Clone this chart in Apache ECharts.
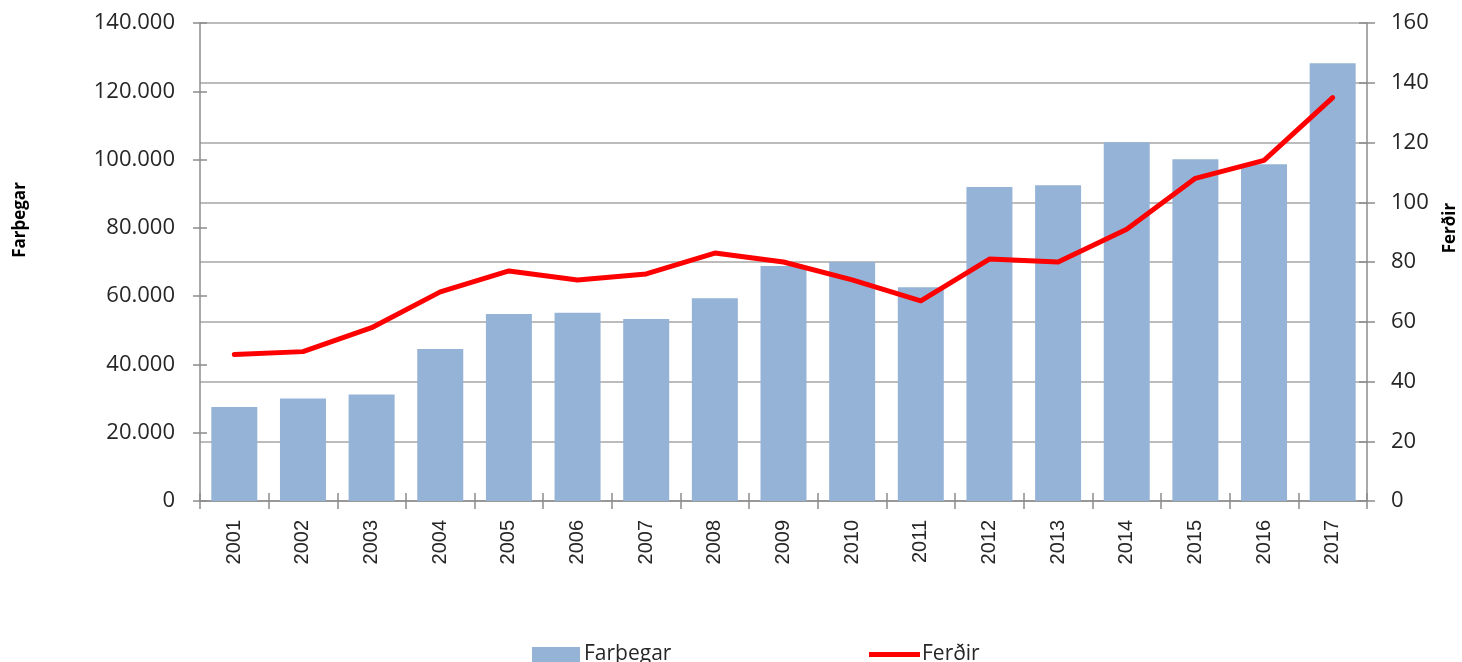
<!DOCTYPE html>
<html>
<head>
<meta charset="utf-8">
<script src="https://cdn.jsdelivr.net/npm/echarts@6/dist/echarts.min.js"></script>
<style>html,body{margin:0;padding:0;background:#fff;}#c{width:1462px;height:662px;}</style>
</head>
<body>
<div id="c"></div>
<script>
const years = ['2001','2002','2003','2004','2005','2006','2007','2008','2009','2010','2011','2012','2013','2014','2015','2016','2017'];
const farthegar = [27500, 30000, 31200, 44500, 54800, 55100, 53300, 59400, 68800, 70000, 62600, 92000, 92500, 105100, 100100, 98600, 128200];
const ferdir = [49, 50, 58, 70, 77, 74, 76, 83, 80, 74, 67, 81, 80, 91, 108, 114, 135];
const leftTicks = {min: 0, max: 140000, interval: 20000};
const rightTicks = {min: 0, max: 160, interval: 20};

const axisColor = '#8C8C8C';
const labelFont = 'Open Sans';
const chart = echarts.init(document.getElementById('c'), null, {renderer: 'canvas'});
const fmtThousands = v => v === 0 ? '0' : String(v).replace(/\B(?=(\d{3})+(?!\d))/g, '.');

chart.setOption({
  animation: false,
  backgroundColor: '#fff',
  grid: {left: 200, right: 95, top: 23, bottom: 161, containLabel: false},
  legend: [
    {left: 532, top: 644, itemWidth: 48, itemHeight: 15, itemGap: 4, padding: 0,
     textStyle: {fontFamily: labelFont, fontSize: 21, color: '#262626', padding: [0, 0, 0, -1]},
     data: [{name: 'Farþegar', icon: 'rect'}]},
    {left: 869, top: 644, itemWidth: 51, itemHeight: 15, itemGap: 4, padding: 0,
     textStyle: {fontFamily: labelFont, fontSize: 21, color: '#262626', padding: [0, 0, 0, -3]},
     data: [{name: 'Ferðir', icon: 'path://M0,5 L51,5 L51,10 L0,10 Z'}]}
  ],
  xAxis: [
    {type: 'category', data: years, position: 'bottom', boundaryGap: true,
     axisLine: {lineStyle: {color: axisColor, width: 1.5}},
     axisTick: {show: true, length: 8, alignWithLabel: false, lineStyle: {color: axisColor, width: 1.5}},
     axisLabel: {rotate: 90, margin: 19, fontFamily: 'Liberation Sans', fontSize: 20, color: '#262626', interval: 0},
     splitLine: {show: false}},
    {type: 'category', data: years, position: 'bottom', boundaryGap: true,
     axisLine: {show: false},
     axisTick: {show: true, inside: true, length: 8, lineStyle: {color: axisColor, width: 1.5}},
     axisLabel: {show: false}, splitLine: {show: false}}
  ],
  yAxis: [
    {type: 'value', position: 'left', min: leftTicks.min, max: leftTicks.max, interval: leftTicks.interval,
     axisLine: {show: true, lineStyle: {color: axisColor, width: 1.5}},
     axisTick: {show: true, length: 7, lineStyle: {color: axisColor, width: 1.5}},
     axisLabel: {margin: 25, fontFamily: labelFont, fontSize: 22, color: '#262626', formatter: fmtThousands},
     splitLine: {show: false}},
    {type: 'value', position: 'right', min: rightTicks.min, max: rightTicks.max, interval: rightTicks.interval,
     axisLine: {show: true, lineStyle: {color: axisColor, width: 1.5}},
     axisTick: {show: true, length: 8, lineStyle: {color: axisColor, width: 1.5}},
     axisLabel: {margin: 24, fontFamily: labelFont, fontSize: 22, color: '#262626'},
     splitLine: {show: true, lineStyle: {color: '#A6A6A6', width: 1.5}}},
    {type: 'value', position: 'left', min: leftTicks.min, max: leftTicks.max, interval: leftTicks.interval,
     axisLine: {show: false},
     axisTick: {show: true, inside: true, length: 7, lineStyle: {color: axisColor, width: 1.5}},
     axisLabel: {show: false}, splitLine: {show: false}},
    {type: 'value', position: 'right', min: rightTicks.min, max: rightTicks.max, interval: rightTicks.interval,
     axisLine: {show: false},
     axisTick: {show: true, inside: true, length: 8, lineStyle: {color: axisColor, width: 1.5}},
     axisLabel: {show: false}, splitLine: {show: false}}
  ],
  graphic: [
    {type: 'text', x: 20, y: 220, rotation: Math.PI / 2,
     style: {text: 'Farþegar', fontFamily: labelFont, fontWeight: 'bold', fontSize: 17, fill: '#000',
             align: 'center', verticalAlign: 'middle'}},
    {type: 'text', x: 1450, y: 228, rotation: Math.PI / 2,
     style: {text: 'Ferðir', fontFamily: labelFont, fontWeight: 'bold', fontSize: 17, fill: '#000',
             align: 'center', verticalAlign: 'middle'}}
  ],
  series: [
    {name: 'Farþegar', type: 'bar', xAxisIndex: 0, yAxisIndex: 0, data: farthegar,
     barWidth: '67%', itemStyle: {color: '#95B3D7'}, z: 2},
    {name: 'Ferðir', type: 'line', xAxisIndex: 0, yAxisIndex: 1, data: ferdir,
     showSymbol: false, symbol: 'none', lineStyle: {color: '#FF0000', width: 5, cap: 'round', join: 'round'},
     itemStyle: {color: '#FF0000'}, z: 3}
  ]
});
</script>
</body>
</html>
